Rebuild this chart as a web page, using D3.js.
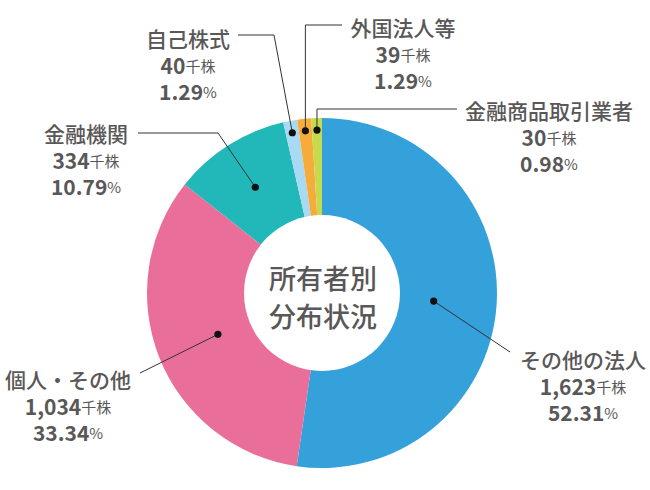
<!DOCTYPE html>
<html><head><meta charset="utf-8">
<script src="https://cdn.jsdelivr.net/npm/d3@7"></script>
<style>
html,body{margin:0;padding:0;background:#fff;}
text{font-family:"Noto Sans CJK JP","Noto Sans",sans-serif;fill:#595757;}
</style></head>
<body>
<svg id="chart" width="650" height="490"></svg>
<script>
const categories = ["その他の法人","個人・その他","金融機関","自己株式","外国法人等","金融商品取引業者"];
const shares = [1623,1034,334,40,39,30];
const shareLabels = ["1,623","1,034","334","40","39","30"];
const percents = [52.31,33.34,10.79,1.29,1.29,0.98];
const centerTitle = ["所有者別","分布状況"];

const colors = ["#35a1db","#ea6e9a","#22b8ba","#a8daf3","#f5ac3b","#c6da4e"];
// layout: dot radius, leader path points (null x => dot x), label centre
const layout = [
  {r:112, pts:[[510,352]], label:[583,359]},
  {r:112, pts:[[140,373]], label:[68,379]},
  {r:125, pts:[[218,133],[138,133]], label:[86,133]},
  {r:163, pts:[[274,35],[238,35]], label:[188,38]},
  {r:163, pts:[[null,25],[342,25]], label:[403,27]},
  {r:163, pts:[[null,109],[457,109]], label:[549,110]}
];

const cx = 322, cy = 293, outerR = 175, innerR = 78;
const svg = d3.select("#chart");
const data = categories.map((c,i)=>({name:c, pct:percents[i], share:shareLabels[i], i}));
const pie = d3.pie().sort(null).value(d=>d.pct);
const arcs = pie(data);
const arc = d3.arc().innerRadius(0).outerRadius(outerR);
const g = svg.append("g").attr("transform",`translate(${cx},${cy})`);
g.selectAll("path.slice").data(arcs).enter().append("path")
  .attr("class","slice").attr("d",arc).attr("fill",d=>colors[d.data.i]);
g.append("circle").attr("r",innerR).attr("fill","#fff");

centerTitle.forEach((t,k)=>{
  g.append("text").attr("x",1).attr("y",k===0?-16:22).attr("text-anchor","middle")
   .attr("dominant-baseline","central").attr("font-size",27).attr("font-weight",500).text(t);
});

arcs.forEach(a=>{
  const L = layout[a.data.i];
  const mid = (a.startAngle+a.endAngle)/2;
  const dx = cx + L.r*Math.sin(mid), dy = cy - L.r*Math.cos(mid);
  const pts = [[dx,dy]].concat(L.pts.map(p=>[p[0]===null?dx:p[0],p[1]]));
  svg.append("path").attr("d",d3.line()(pts)).attr("fill","none")
    .attr("stroke","#333").attr("stroke-width",1);
  svg.append("circle").attr("cx",dx).attr("cy",dy).attr("r",3.6).attr("fill","#111");
  const [lx,ly] = L.label;
  svg.append("text").attr("x",lx).attr("y",ly).attr("text-anchor","middle")
    .attr("dominant-baseline","central").attr("font-size",21).attr("font-weight",500).text(a.data.name);
  const t1 = svg.append("text").attr("x",lx).attr("y",ly+27).attr("text-anchor","middle")
    .attr("dominant-baseline","central");
  t1.append("tspan").attr("font-size",21).attr("font-weight",700).text(a.data.share);
  t1.append("tspan").attr("font-size",15).attr("font-weight",400).text("千株");
  const t2 = svg.append("text").attr("x",lx).attr("y",ly+53).attr("text-anchor","middle")
    .attr("dominant-baseline","central");
  t2.append("tspan").attr("font-size",21).attr("font-weight",700).text(a.data.pct.toFixed(2));
  t2.append("tspan").attr("font-size",15).attr("font-weight",400).text("%");
});
</script>
</body></html>
